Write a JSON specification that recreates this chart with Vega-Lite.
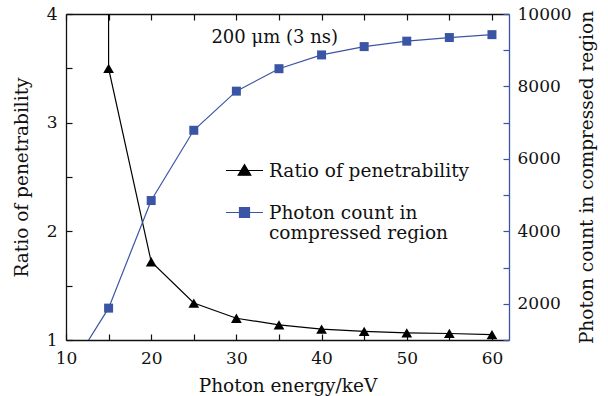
{
  "$schema": "https://vega.github.io/schema/vega-lite/v6.json",
  "width": 443,
  "height": 326,
  "autosize": {"type": "none"},
  "padding": {"left": 66, "top": 14, "right": 99, "bottom": 56},
  "background": "white",
  "config": {
    "font": "DejaVu Serif",
    "view": {"stroke": null},
    "axis": {
      "labelFont": "DejaVu Serif",
      "titleFont": "DejaVu Serif",
      "labelFontSize": 17,
      "titleFontSize": 18.5,
      "titleFontWeight": "normal",
      "labelColor": "#111111",
      "titleColor": "#111111",
      "domainColor": "#111111",
      "tickColor": "#111111",
      "domainWidth": 1.3,
      "tickWidth": 1.2,
      "tickSize": -6,
      "grid": false
    }
  },
  "datasets": {
    "ratio": [
      {"energy": 10, "ratio": 1000, "series": "Ratio of penetrability"},
      {"energy": 15, "ratio": 3.5, "series": "Ratio of penetrability"},
      {"energy": 20, "ratio": 1.72, "series": "Ratio of penetrability"},
      {"energy": 25, "ratio": 1.34, "series": "Ratio of penetrability"},
      {"energy": 30, "ratio": 1.2, "series": "Ratio of penetrability"},
      {"energy": 35, "ratio": 1.14, "series": "Ratio of penetrability"},
      {"energy": 40, "ratio": 1.1, "series": "Ratio of penetrability"},
      {"energy": 45, "ratio": 1.08, "series": "Ratio of penetrability"},
      {"energy": 50, "ratio": 1.066, "series": "Ratio of penetrability"},
      {"energy": 55, "ratio": 1.06, "series": "Ratio of penetrability"},
      {"energy": 60, "ratio": 1.05, "series": "Ratio of penetrability"}
    ],
    "photon": [
      {"energy": 10, "count": 0, "series": "Photon count in compressed region"},
      {"energy": 15, "count": 1880, "series": "Photon count in compressed region"},
      {"energy": 20, "count": 4850, "series": "Photon count in compressed region"},
      {"energy": 25, "count": 6790, "series": "Photon count in compressed region"},
      {"energy": 30, "count": 7870, "series": "Photon count in compressed region"},
      {"energy": 35, "count": 8490, "series": "Photon count in compressed region"},
      {"energy": 40, "count": 8870, "series": "Photon count in compressed region"},
      {"energy": 45, "count": 9100, "series": "Photon count in compressed region"},
      {"energy": 50, "count": 9250, "series": "Photon count in compressed region"},
      {"energy": 55, "count": 9350, "series": "Photon count in compressed region"},
      {"energy": 60, "count": 9430, "series": "Photon count in compressed region"}
    ],
    "note": [{"label": "200 μm (3 ns)"}]
  },
  "layer": [
    {
      "data": {"name": "ratio"},
      "encoding": {
        "x": {
          "field": "energy", "type": "quantitative",
          "scale": {"domain": [10, 62], "nice": false, "zero": false},
          "axis": {
            "orient": "bottom",
            "title": "Photon energy/keV",
            "values": [10, 15, 20, 25, 30, 35, 40, 45, 50, 55, 60],
            "labelExpr": "datum.value % 10 === 0 ? datum.label : ''",
            "format": "d",
            "labelPadding": 16,
            "titlePadding": 10,
            "labelFlush": false,
            "labelOverlap": false
          }
        },
        "y": {
          "field": "ratio", "type": "quantitative",
          "scale": {"domain": [1, 4], "nice": false, "zero": false},
          "axis": {
            "orient": "left",
            "title": "Ratio of penetrability",
            "values": [1, 1.5, 2, 2.5, 3, 3.5, 4],
            "labelExpr": "datum.value % 1 === 0 ? format(datum.value, 'd') : ''",
            "labelPadding": 15,
            "titlePadding": 15,
            "labelFlush": false,
            "labelOverlap": false
          }
        },
        "color": {
          "field": "series", "type": "nominal",
          "scale": {
            "domain": ["Ratio of penetrability", "Photon count in compressed region"],
            "range": ["#000000", "#3b55a5"]
          },
          "legend": {
            "orient": "none",
            "legendX": 159,
            "legendY": 137,
            "title": null,
            "labelFont": "DejaVu Serif",
            "labelFontSize": 18.5,
            "labelColor": "#111111",
            "symbolSize": 1369,
            "symbolStrokeWidth": 1.2,
            "labelOffset": 5,
            "rowPadding": 13,
            "labelLimit": 400,
            "labelExpr": "datum.label === 'Photon count in compressed region' ? ['Photon count in', 'compressed region'] : datum.label",
            "encode": {
              "symbols": {
                "update": {
                  "shape": {"signal": "datum.value === 'Ratio of penetrability' ? 'M-1,0H1M-0.34,0.25L0,-0.31L0.34,0.25Z' : 'M-1,0H1M-0.27,-0.26H0.27V0.26H-0.27Z'"},
                  "fill": {"scale": "color", "field": "value"},
                  "stroke": {"scale": "color", "field": "value"},
                  "opacity": {"value": 1},
                  "fillOpacity": {"value": 1}
                }
              }
            }
          }
        }
      },
      "layer": [
        {"mark": {"type": "line", "clip": true, "strokeWidth": 1.2}},
        {"mark": {"type": "point", "shape": "triangle-up", "filled": true, "size": 115, "opacity": 1, "clip": true}}
      ]
    },
    {
      "data": {"name": "photon"},
      "encoding": {
        "x": {
          "field": "energy", "type": "quantitative",
          "axis": {
            "orient": "top",
            "title": null,
            "values": [10, 15, 20, 25, 30, 35, 40, 45, 50, 55, 60],
            "labels": false
          }
        },
        "y": {
          "field": "count", "type": "quantitative",
          "scale": {"domain": [1000, 10000], "nice": false, "zero": false},
          "axis": {
            "orient": "right",
            "title": "Photon count in compressed region",
            "titleAngle": 270,
            "titleBaseline": "top",
            "values": [1000, 2000, 3000, 4000, 5000, 6000, 7000, 8000, 9000, 10000],
            "labelExpr": "datum.value % 2000 === 0 ? format(datum.value, 'd') : ''",
            "domainColor": "#3b55a5",
            "tickColor": "#3b55a5",
            "labelPadding": 14,
            "titlePadding": 6,
            "labelFlush": false,
            "labelOverlap": false
          }
        },
        "color": {"field": "series", "type": "nominal"}
      },
      "layer": [
        {"mark": {"type": "line", "clip": true, "strokeWidth": 1.2}},
        {"mark": {"type": "point", "shape": "square", "filled": true, "size": 81, "opacity": 1, "clip": true}}
      ]
    },
    {
      "data": {"name": "note"},
      "mark": {"type": "text", "font": "DejaVu Serif", "fontSize": 18, "align": "center", "baseline": "middle", "color": "#111111"},
      "encoding": {
        "x": {"datum": 34.5, "type": "quantitative", "axis": null},
        "y": {"datum": 3.78, "type": "quantitative", "scale": {"domain": [1, 4], "nice": false, "zero": false}, "axis": null},
        "text": {"field": "label", "type": "nominal"}
      }
    }
  ],
  "resolve": {"scale": {"y": "independent"}, "axis": {"x": "independent"}}
}
